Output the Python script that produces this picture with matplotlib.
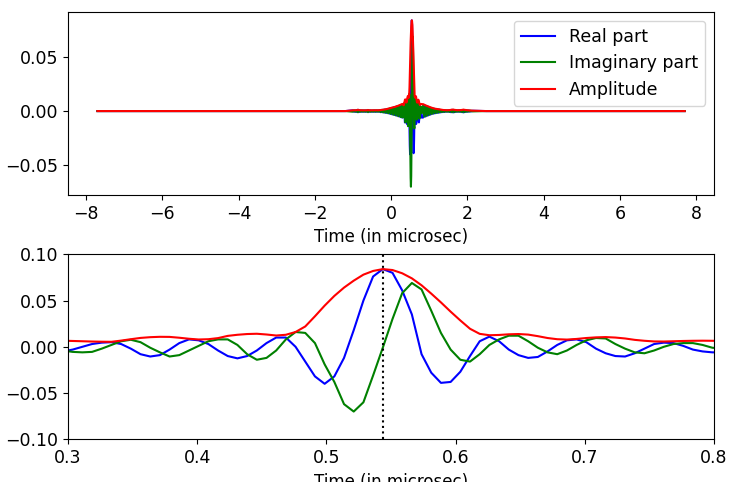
import numpy as np
import matplotlib
matplotlib.use('Agg')
import matplotlib.pyplot as plt

# Time of the pulse peak (in microsec)
t_peak = 0.5436

# Zoomed window, sampled every 0.0075 microsec around the peak
t_zoom = np.round(t_peak + 0.0075*np.arange(-33, 36), 4)
real_zoom = [-0.005, -0.003, 0.000, 0.003, 0.0045, 0.005, 0.003, -0.002, -0.008, -0.0105,
             -0.009, -0.003, 0.004, 0.008, 0.007, 0.003, -0.004, -0.010, -0.0125, -0.010,
             -0.004, 0.004, 0.010, 0.010, 0.000, -0.016, -0.032, -0.040, -0.032, -0.012,
             0.018, 0.050, 0.076, 0.084, 0.080, 0.061, 0.035, -0.008, -0.028, -0.039,
             -0.038, -0.027, -0.010, 0.006, 0.011, 0.006, -0.003, -0.009, -0.012, -0.011,
             -0.005, 0.002, 0.007, 0.008, 0.005, -0.002, -0.007, -0.010, -0.0105, -0.007,
             -0.002, 0.003, 0.0045, 0.004, 0.001, -0.003, -0.005, -0.006, -0.006]
imag_zoom = [-0.004, -0.0055, -0.006, -0.0055, -0.002, 0.002, 0.006, 0.0076, 0.005, -0.001,
             -0.006, -0.0105, -0.009, -0.004, 0.001, 0.006, 0.008, 0.008, 0.002, -0.008,
             -0.014, -0.012, -0.004, 0.008, 0.016, 0.015, 0.004, -0.019, -0.038, -0.062,
             -0.070, -0.060, -0.031, -0.001, 0.030, 0.058, 0.069, 0.062, 0.039, 0.015,
             -0.003, -0.014, -0.016, -0.008, 0.002, 0.008, 0.012, 0.012, 0.006, -0.001,
             -0.006, -0.008, -0.004, 0.002, 0.007, 0.0095, 0.009, 0.003, -0.002, -0.006,
             -0.007, -0.004, 0.000, 0.003, 0.004, 0.004, 0.002, -0.001, -0.002]
amp_zoom = [0.0066, 0.0063, 0.0060, 0.0057, 0.0055, 0.0054, 0.0067, 0.0082, 0.0096, 0.0104,
            0.0108, 0.0107, 0.0098, 0.0087, 0.0079, 0.0082, 0.0094, 0.0118, 0.0130, 0.0138,
            0.0141, 0.0133, 0.0122, 0.0130, 0.0160, 0.0220, 0.0330, 0.0445, 0.0550, 0.0640,
            0.0715, 0.0780, 0.0820, 0.0840, 0.0830, 0.0795, 0.0740, 0.0665, 0.0575, 0.0480,
            0.0380, 0.0285, 0.0195, 0.0140, 0.0125, 0.0128, 0.0135, 0.0138, 0.0132, 0.0115,
            0.0095, 0.0082, 0.0078, 0.0085, 0.0095, 0.0102, 0.0105, 0.0100, 0.0090, 0.0075,
            0.0065, 0.0058, 0.0057, 0.0060, 0.0063, 0.0065, 0.0066, 0.0065, 0.0064]

# Low ripple before the zoom window
t_left = np.round(-1.0 + 0.033*np.arange(40), 3)
real_left = [0.0007, -0.0007, 0.0007, -0.0008, 0.0012, -0.0008, 0.0007, -0.0007, 0.0007, -0.0007,
             0.0007, -0.0007, 0.001, -0.0007, 0.0007, -0.0007, 0.0007, -0.0007, 0.0007, -0.0007,
             0.0007, -0.0007, 0.001, -0.001, 0.0012, -0.0014, 0.0016, -0.0018, 0.002, -0.0023,
             0.0026, -0.003, 0.0033, -0.0036, 0.004, -0.0043, 0.0047, -0.005, 0.0055, -0.006]
imag_left = [-0.0006, 0.0007, -0.0007, 0.0008, -0.0011, 0.0008, -0.0007, 0.0007, -0.0007, 0.0006,
             -0.0007, 0.0007, -0.001, 0.0007, -0.0007, 0.0006, -0.0007, 0.0007, -0.0007, 0.0007,
             -0.0007, 0.0008, -0.001, 0.0011, -0.0013, 0.0014, -0.0016, 0.0019, -0.0021, 0.0024,
             -0.0027, 0.003, -0.0034, 0.0037, -0.004, 0.0044, -0.0048, 0.0052, -0.0056, 0.005]
amp_left = [0.0007, 0.0007, 0.0007, 0.0008, 0.0012, 0.0008, 0.0007, 0.0007, 0.0007, 0.0007,
            0.0007, 0.0007, 0.0010, 0.0007, 0.0007, 0.0007, 0.0007, 0.0007, 0.0007, 0.0007,
            0.0007, 0.0008, 0.0010, 0.0011, 0.0013, 0.0014, 0.0016, 0.0019, 0.0021, 0.0024,
            0.0027, 0.0031, 0.0034, 0.0037, 0.0041, 0.0045, 0.0049, 0.0054, 0.0060, 0.0065]

# Low ripple after the zoom window
t_right = np.round(0.84 + 0.033*np.arange(40), 3)
real_right = [-0.006, 0.0055, -0.005, 0.0045, -0.004, 0.0036, -0.0032, 0.0028, -0.0025, 0.0022,
              -0.002, 0.0018, -0.0016, 0.0014, -0.0012, 0.001, -0.0009, 0.0008, -0.0007, 0.0007,
              -0.0007, 0.0008, -0.001, 0.0012, -0.0012, 0.001, -0.0008, 0.0007, -0.0007, 0.0007,
              -0.0008, 0.001, -0.0012, 0.001, -0.0008, 0.0007, -0.0006, 0.0005, -0.0004, 0.0003]
imag_right = [0.005, -0.0052, 0.0048, -0.0044, 0.004, -0.0035, 0.0031, -0.0027, 0.0024, -0.0021,
              0.0019, -0.0017, 0.0015, -0.0013, 0.0011, -0.001, 0.0009, -0.0008, 0.0007, -0.0007,
              0.0007, -0.0008, 0.001, -0.0011, 0.0012, -0.001, 0.0008, -0.0007, 0.0007, -0.0007,
              0.0008, -0.001, 0.0011, -0.001, 0.0008, -0.0007, 0.0006, -0.0005, 0.0004, -0.0003]
amp_right = [0.0064, 0.0058, 0.0053, 0.0048, 0.0043, 0.0038, 0.0034, 0.0030, 0.0026, 0.0023,
             0.0021, 0.0019, 0.0017, 0.0015, 0.0013, 0.0011, 0.0010, 0.0009, 0.0008, 0.0008,
             0.0008, 0.0009, 0.0011, 0.0013, 0.0013, 0.0011, 0.0009, 0.0008, 0.0008, 0.0008,
             0.0009, 0.0011, 0.0013, 0.0011, 0.0009, 0.0008, 0.0007, 0.0006, 0.0005, 0.0004]

# Flat parts at both ends of the full record
t_ends_left = [-7.7, -1.2]
t_ends_right = [2.5, 7.7]
flat = [0.0, 0.0]

# Full record
t_all = np.concatenate([t_ends_left, t_left, t_zoom, t_right, t_ends_right])
real_all = np.concatenate([flat, real_left, real_zoom, real_right, flat])
imag_all = np.concatenate([flat, imag_left, imag_zoom, imag_right, flat])
amp_all = np.concatenate([flat, amp_left, amp_zoom, amp_right, flat])

plt.rcParams['font.size'] = 12
plt.rcParams['xtick.labelsize'] = 12.5
plt.rcParams['ytick.labelsize'] = 12.5
plt.rcParams['legend.fontsize'] = 12.5

fig = plt.figure(figsize=(7.3, 4.82), dpi=100)

ax1 = fig.add_axes([0.0932, 0.5954, 0.8850, 0.3797])
ax1.plot(t_all, real_all, 'b', lw=1.5, label='Real part')
ax1.plot(t_all, imag_all, 'g', lw=1.5, label='Imaginary part')
ax1.plot(t_all, amp_all, 'r', lw=1.5, label='Amplitude')
ax1.set_xlabel('Time (in microsec)')
ax1.legend(loc='upper right')

ax2 = fig.add_axes([0.0932, 0.0886, 0.8850, 0.3838])
ax2.plot(t_zoom, real_zoom, 'b', lw=1.5)
ax2.plot(t_zoom, imag_zoom, 'g', lw=1.5)
ax2.plot(t_zoom, amp_zoom, 'r', lw=1.5)
ax2.axvline(t_peak, color='k', ls=':', lw=1.5)
ax2.set_xlim(0.3, 0.8)
ax2.set_ylim(-0.1, 0.1)
ax2.set_xlabel('Time (in microsec)')

fig.savefig('out.png', dpi=100)
